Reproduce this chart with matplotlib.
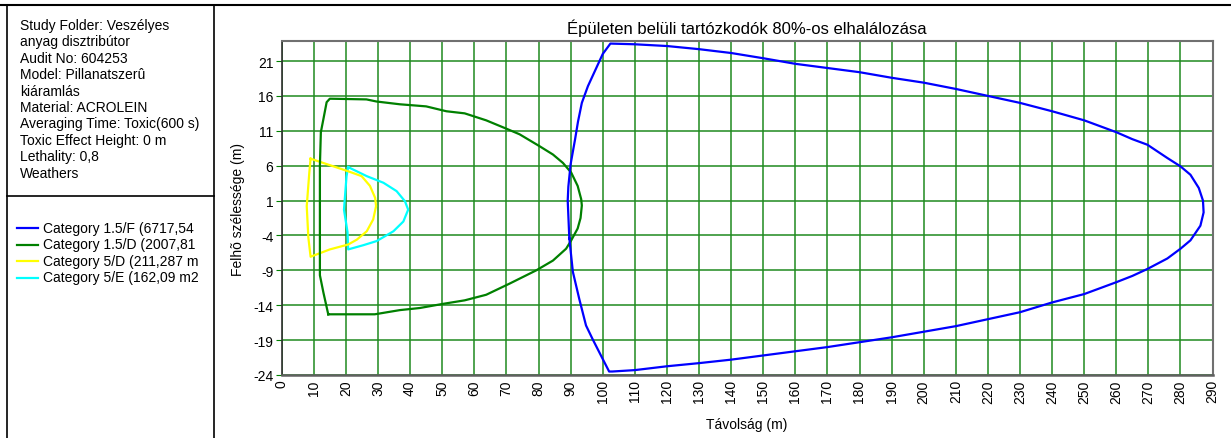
import numpy as np
import matplotlib
matplotlib.use('Agg')
import matplotlib.pyplot as plt

plt.rcParams['font.family'] = ['Liberation Sans', 'DejaVu Sans']
plt.rcParams['axes.unicode_minus'] = False

# contour data (distance m, cloud width m)
cat_names = ['Category 1.5/F (6717,54', 'Category 1.5/D (2007,81',
             'Category 5/D (211,287 m', 'Category 5/E (162,09 m2']
cat_colors = ['#0000ff', '#008000', '#ffff00', '#00ffff']

x_15f = [89.6, 89.1, 89.3, 90.0, 91.4, 92.3, 93.5, 95.4, 98.0, 100.0, 102.4,
         110, 120, 130, 140, 150, 160, 170, 180, 190, 200, 210, 220, 230, 240,
         250, 260, 265, 269.7, 275.9, 280, 283.1, 285.7, 287.0, 287.2, 286.2,
         283.1, 280, 275.9, 269.7, 265, 260, 250, 240, 230, 220, 210, 200, 190,
         180, 170, 160, 150, 140, 130, 120, 110, 103, 102, 100, 96.9, 94.8,
         92.7, 90.7, 89.6]
y_15f = [-4.4, 1.0, 3.0, 6.2, 9.8, 12.3, 15.0, 17.4, 20.0, 22.0, 23.5,
         23.4, 23.15, 22.7, 22.15, 21.4, 20.6, 20.0, 19.4, 18.6, 17.9, 17.0,
         16.0, 15.0, 13.8, 12.5, 10.8, 9.8, 9.0, 7.1, 5.9, 4.7, 2.8, 1.0, -0.7,
         -2.6, -4.7, -5.9, -7.3, -8.8, -9.8, -10.7, -12.4, -13.6, -15.0, -16.0,
         -17.0, -17.8, -18.6, -19.3, -20.0, -20.6, -21.2, -21.8, -22.3, -22.75,
         -23.3, -23.5, -23.5, -21.7, -18.9, -16.9, -13.1, -9.2, -4.4]

x_15d = [14.5, 13.0, 11.9, 11.9, 11.9, 11.9, 12.2, 13.0, 14.0, 15.0, 26.4,
         29.5, 36.8, 45.0, 51.3, 57.0, 63.7, 70.0, 74.1, 80.3, 84.5, 87.6,
         90.2, 92.2, 93.3, 93.5, 93.1, 92.2, 90.2, 88.6, 84.5, 79.3, 71.0,
         63.7, 57.0, 50.3, 43.0, 36.8, 29.0, 14.5]
y_15d = [-15.3, -12.2, -9.7, -4.4, 1.2, 6.0, 10.8, 12.7, 15.1, 15.6, 15.5,
         15.2, 14.8, 14.5, 13.8, 13.5, 12.5, 11.3, 10.5, 8.8, 7.6, 6.4, 5.0,
         3.1, 1.2, 0.3, -1.5, -3.0, -4.7, -5.9, -7.6, -9.0, -10.9, -12.5,
         -13.3, -13.8, -14.4, -14.7, -15.3, -15.3]

x_5d = [9.0, 20.7, 24.9, 27.5, 29.1, 29.4, 28.5, 26.5, 23.4, 20.7, 15.0, 9.0,
        8.3, 7.8, 8.6, 9.0]
y_5d = [7.0, 5.2, 4.5, 3.1, 1.4, 0.2, -1.7, -3.4, -4.6, -5.3, -6.0, -7.05,
        -4.3, 0.2, 5.0, 7.0]

x_5e = [20.7, 21.8, 26.5, 31.7, 35.8, 38.4, 39.4, 37.9, 34.8, 29.6, 25.4,
        20.7, 20.5, 19.4, 20.2, 20.7]
y_5e = [5.8, 5.55, 4.5, 3.55, 2.35, 0.9, -0.3, -2.0, -3.4, -4.8, -5.4, -6.0,
        -3.5, -0.3, 4.5, 5.8]

xs = [x_15f, x_15d, x_5d, x_5e]
ys = [y_15f, y_15d, y_5d, y_5e]

info_lines = ['Study Folder: Veszélyes', 'anyag disztribútor', 'Audit No: 604253',
              'Model: Pillanatszerû', 'kiáramlás', 'Material: ACROLEIN',
              'Averaging Time: Toxic(600 s)', 'Toxic Effect Height: 0 m',
              'Lethality: 0,8', 'Weathers']

W, H = 1231, 439
fig = plt.figure(figsize=(W / 100, H / 100), dpi=100)

# left info panel, pixel coords
pan = fig.add_axes([0, 0, 1, 1])
pan.set_xlim(0, W)
pan.set_ylim(H, 0)
pan.axis('off')
pan.plot([0, W], [6, 6], color='black', lw=1.5)
pan.plot([7, 7], [6, H], color='black', lw=1.2)
pan.plot([214, 214], [6, H], color='black', lw=1.2)
pan.plot([7, 214], [197, 197], color='black', lw=1.2)
for i, s in enumerate(info_lines):
    pan.text(20, 26 + i * 16.4, s, fontsize=10, va='center', ha='left')
for i, (nm, c) in enumerate(zip(cat_names, cat_colors)):
    yy = 229 + i * 16.5
    pan.plot([17, 38], [yy, yy], color=c, lw=1.6)
    pan.text(43, yy, nm, fontsize=10, va='center', ha='left')

# chart
ax = fig.add_axes([281.7 / W, (H - 376) / H, (1212.6 - 281.7) / W, (376 - 42) / H])
zs = [5, 4, 3, 2]
for x, y, c, z in zip(xs, ys, cat_colors, zs):
    ax.plot(x, y, color=c, lw=1.6, zorder=z)

ax.set_xlim(0, 290)
ax.set_ylim(-24, 23.87)
ax.set_xticks(np.arange(0, 291, 10))
ax.set_yticks(np.arange(-24, 22, 5))
ax.set_xticklabels([str(v) for v in range(0, 291, 10)], rotation=90, fontsize=10)
ax.tick_params(axis='y', labelsize=10, length=4, color='#008000', pad=2)
ax.tick_params(axis='x', length=0, pad=3)
ax.grid(True, color='#1f8a1f', lw=1.1, zorder=1)
ax.set_axisbelow(True)
for side in ['top', 'right']:
    ax.spines[side].set_color('#707070')
    ax.spines[side].set_linewidth(1.5)
ax.spines['bottom'].set_color('#606060')
ax.spines['bottom'].set_linewidth(1.8)
ax.spines['left'].set_color('#303030')
ax.spines['left'].set_linewidth(1.2)

ax.set_title('Épületen belüli tartózkodók 80%-os elhalálozása', fontsize=12, pad=6)
ax.set_xlabel('Távolság (m)', fontsize=10, labelpad=10)
ax.set_ylabel('Felhõ szélessége (m)', fontsize=10, labelpad=6)

fig.savefig('out.png', dpi=100)
